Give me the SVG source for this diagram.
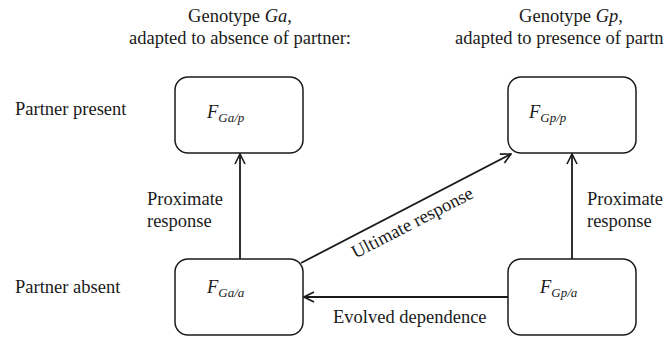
<svg xmlns="http://www.w3.org/2000/svg" width="666" height="337" viewBox="0 0 666 337">
  <defs>
    <marker id="open-arrow" viewBox="0 0 12 12" refX="11" refY="6" markerWidth="12" markerHeight="12" markerUnits="userSpaceOnUse" orient="auto">
      <path d="M1,1 L11,6 L1,11" fill="none" stroke="#1a1a1a" stroke-width="1.6"/>
    </marker>
  </defs>
  <style>
    text { font-family: 'Liberation Serif', 'Times New Roman', serif; font-size: 18.5px; fill: #1a1a1a; }
    .it { font-style: italic; }
    .sub { font-size: 13px; font-style: italic; }
    .box { fill: #ffffff; stroke: #1a1a1a; stroke-width: 1.5; }
    .edge { fill: none; stroke: #1a1a1a; stroke-width: 1.8; marker-end: url(#open-arrow); }
  </style>
  <rect width="666" height="337" fill="#ffffff"/>

  <!-- column headings -->
  <g id="heading-ga">
    <text x="240" y="22" text-anchor="middle">Genotype <tspan class="it">Ga</tspan>,</text>
    <text x="240" y="44" text-anchor="middle">adapted to absence of partner:</text>
  </g>
  <g id="heading-gp">
    <text x="571" y="22" text-anchor="middle">Genotype <tspan class="it">Gp</tspan>,</text>
    <text x="455" y="44">adapted to presence of partn</text>
  </g>

  <!-- row labels -->
  <g id="row-present"><text x="15" y="115">Partner present</text></g>
  <g id="row-absent"><text x="15" y="293">Partner absent</text></g>

  <!-- connectors -->
  <g id="connectors">
    <line class="edge" x1="240" y1="259" x2="240" y2="154"/>
    <line class="edge" x1="572" y1="259" x2="572" y2="154"/>
    <line class="edge" x1="301" y1="263" x2="511" y2="154"/>
    <line class="edge" x1="508" y1="297" x2="304" y2="297"/>
    <text x="147" y="205">Proximate</text>
    <text x="147" y="227">response</text>
    <text x="587" y="205">Proximate</text>
    <text x="587" y="227">response</text>
    <text transform="translate(415 228) rotate(-27.3)" text-anchor="middle">Ultimate response</text>
    <text x="333" y="323">Evolved dependence</text>
  </g>

  <!-- nodes -->
  <g id="node-ga-p">
    <rect class="box" x="175" y="77" width="128" height="76" rx="13"/>
    <text x="207" y="118" class="it">F<tspan class="sub" dy="4">Ga/p</tspan></text>
  </g>
  <g id="node-gp-p">
    <rect class="box" x="508" y="77" width="128" height="76" rx="13"/>
    <text x="529" y="118" class="it">F<tspan class="sub" dy="4">Gp/p</tspan></text>
  </g>
  <g id="node-ga-a">
    <rect class="box" x="175" y="259" width="128" height="76" rx="13"/>
    <text x="207" y="293" class="it">F<tspan class="sub" dy="4">Ga/a</tspan></text>
  </g>
  <g id="node-gp-a">
    <rect class="box" x="508" y="259" width="128" height="76" rx="13"/>
    <text x="540" y="293" class="it">F<tspan class="sub" dy="4">Gp/a</tspan></text>
  </g>
</svg>
